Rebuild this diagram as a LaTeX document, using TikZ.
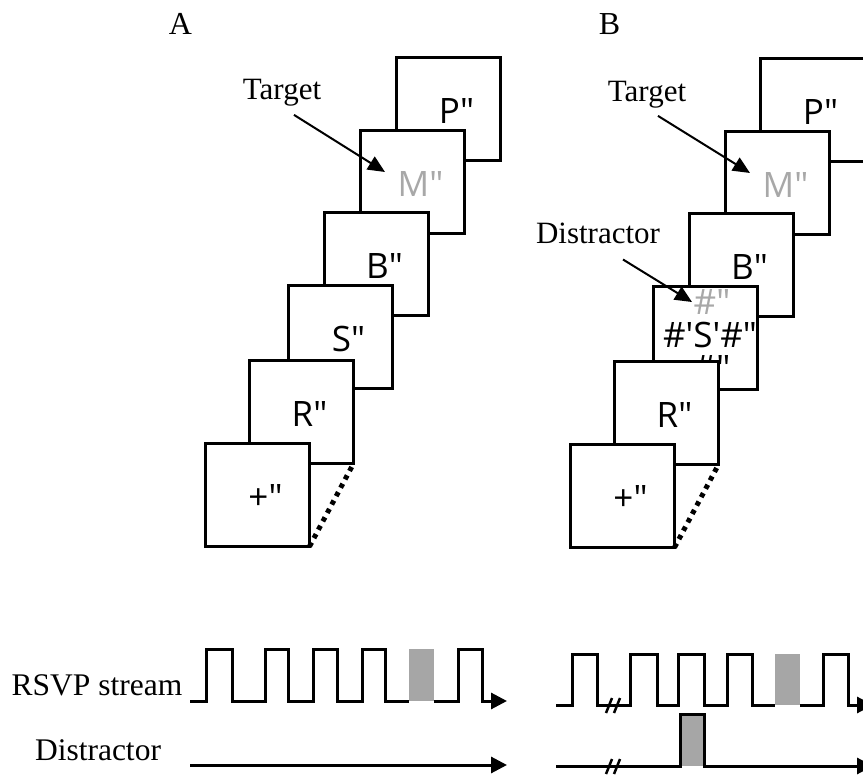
\documentclass[tikz,border=0pt]{standalone}
\usepackage{fontspec}
\setmainfont{Liberation Serif}
\newfontfamily\stimfont{Open Sans}
\usepackage{tikz}
\usetikzlibrary{positioning}
\usetikzlibrary{arrows.meta}
\definecolor{stimgray}{gray}{0.66}
\definecolor{pulsegray}{gray}{0.65}
\tikzset{
    screen/.style={draw, fill=white, line width=3.2pt, minimum width=104pt, minimum height=103pt, inner sep=0pt, outer sep=0pt}, % 每一帧刺激画面
    stim/.style={font=\stimfont\fontsize{35}{40}\selectfont, inner sep=0pt}, % 画面里的字母
    lbl/.style={font=\fontsize{31}{36}\selectfont, anchor=base, inner sep=1pt}, % 说明文字
    pointer/.style={line width=2pt, -{Triangle[length=17pt,width=15pt]}}, % 指向箭头
    wave/.style={line width=3pt}, % 时间序列
    wavearrow/.style={wave, -{Triangle[length=16pt,width=16pt]}},
    dotline/.style={line width=5pt, dash pattern=on 4.5pt off 5pt},
    brk/.style={line width=2.5pt}
}

\begin{document}
\begin{tikzpicture}[x=1pt, y=-1pt]
          \useasboundingbox (0,0) rectangle (863,778);
          \clip (0,0) rectangle (863,778);

          % --- 1. 面板标题 ---
          \node[lbl, font=\fontsize{32}{36}\selectfont] (A-title) at (180.5,35) {A};
          \node[lbl, font=\fontsize{32}{36}\selectfont] (B-title) at (609.5,35) {B};

          % --- 2. 面板 A: 从后往前画各帧, 格式 \n / \cx / \cy / \txt / \col ---
          \foreach \n / \cx / \cy / \txt / \col in {
              P/448.5/109/{P"}/black,
              M/412.5/182/{M"}/stimgray,
              B/376.5/264/{B"}/black,
              S/340.5/337/{S"}/black,
              R/301.5/412/{R"}/black,
              fix/257.5/495/{+"}/black} {
              \node[screen] (A-\n) at (\cx,\cy) {};
              \node[stim, text=\col] (A-\n-t) at ([shift={(8,2)}]A-\n.center) {\txt};
          }
          \draw[dotline] (A-fix.south east) -- (A-R.south east);

          \node[lbl] (A-tgt) at (282,100) {Target};
          \coordinate (A-tgt-tip) at (385,172);
          \draw[pointer] ([shift={(12,7)}]A-tgt.south) -- (A-tgt-tip);

          % --- 3. 面板 B ---
          \foreach \n / \cx / \cy / \txt / \col in {
              P/812.5/110/{P"}/black,
              M/777.5/183/{M"}/stimgray,
              B/741.5/265/{B"}/black} {
              \node[screen] (B-\n) at (\cx,\cy) {};
              \node[stim, text=\col] (B-\n-t) at ([shift={(8,2)}]B-\n.center) {\txt};
          }
          % 带干扰项的画面
          \node[screen] (B-S) at (705.5,338) {};
          \node[stim, text=stimgray] (B-S-up) at (712,302) {\#"};
          \node[stim] (B-S-mid) at (710,335) {\#\textquotesingle S\textquotesingle\#"};
          \node[stim] (B-S-low) at (712,368) {\#"};
          \foreach \n / \cx / \cy / \txt / \col in {
              R/666.5/413/{R"}/black,
              fix/622.5/496/{+"}/black} {
              \node[screen] (B-\n) at (\cx,\cy) {};
              \node[stim, text=\col] (B-\n-t) at ([shift={(8,2)}]B-\n.center) {\txt};
          }
          \draw[dotline] (B-fix.south east) -- (B-R.south east);

          \node[lbl] (B-tgt) at (647,102) {Target};
          \coordinate (B-tgt-tip) at (750,173);
          \draw[pointer] ([shift={(11,6)}]B-tgt.south) -- (B-tgt-tip);

          \node[lbl] (B-dis) at (598,244) {Distractor};
          \coordinate (B-dis-tip) at (692,302);
          \draw[pointer] ([shift={(25,14)}]B-dis.south) -- (B-dis-tip);

          % --- 4. 时间序列 ---
          \node[lbl, font=\fontsize{31.5}{36}\selectfont] (rsvp) at (97,695) {RSVP stream};
          \node[lbl, font=\fontsize{31.5}{36}\selectfont] (dist) at (98,760) {Distractor};

          % A
          \fill[pulsegray] (409,649) rectangle (434,701);
          \draw[wavearrow] (190,701) -| (206,649) -| (232,701) -| (265,649) -| (288,701)
              -| (313,649) -| (337,701) -| (362,649) -| (385,701) -- (409,701)
              (434,701) -| (458,649) -| (482,701) -- (507,701);
          \draw[wavearrow] (190,765) -- (507,765);

          % B
          \fill[pulsegray] (775,654) rectangle (800,705);
          \draw[wavearrow] (556,705) -| (572,654) -| (597,705) -| (630,654) -| (657,705)
              -| (678,654) -| (704,705) -| (727,654) -| (752,705) -- (775,705)
              (800,705) -| (823,654) -| (848,705) -- (873,705);
          \fill[pulsegray] (680,714) rectangle (704,766);
          \draw[wavearrow] (556,766) -| (680,714) -| (704,766) -- (873,766);
          \foreach \y in {705, 766} {
              \draw[brk] (606,\y+8) -- (612,\y-7);
              \draw[brk] (614,\y+8) -- (620,\y-7);
          }

      \end{tikzpicture}
\end{document}
